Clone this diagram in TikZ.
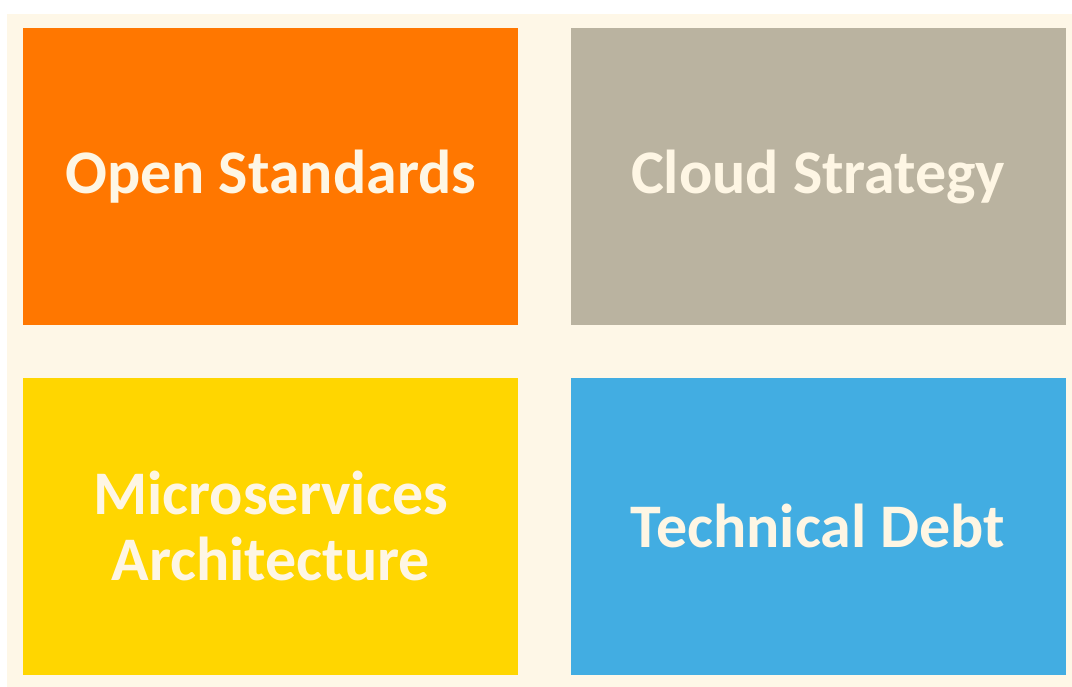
\documentclass[tikz,border=0pt]{standalone}
\usepackage{fontspec}
\setmainfont{Carlito}
\usepackage{tikz}
\usetikzlibrary{positioning}
\definecolor{creambg}{RGB}{254, 247, 231}
\definecolor{labeltext}{RGB}{254, 246, 228}
\definecolor{orangebox}{RGB}{255, 119, 0}
\definecolor{greybox}{RGB}{186, 179, 160}
\definecolor{yellowbox}{RGB}{255, 214, 0}
\definecolor{bluebox}{RGB}{66, 173, 226}

\begin{document}
\begin{tikzpicture}[x=1pt,y=1pt,node distance=52pt,
  tile/.style={rectangle,minimum width=495pt,minimum height=297pt,inner sep=0pt,
    text=labeltext,align=center,font=\fontsize{62}{66}\selectfont\bfseries}]
\useasboundingbox (0,0) rectangle (1072,687);
\fill[creambg] (7,0) rectangle (1072,673);
\node[tile,fill=orangebox,anchor=north west](open) at (23,659){Open Standards};
\node[tile,fill=greybox,right=of open](cloud){Cloud Strategy};
\node[tile,fill=yellowbox,below=of open](micro){Microservices\\Architecture};
\node[tile,fill=bluebox,below=of cloud](debt){Technical Debt};
\end{tikzpicture}
\end{document}
